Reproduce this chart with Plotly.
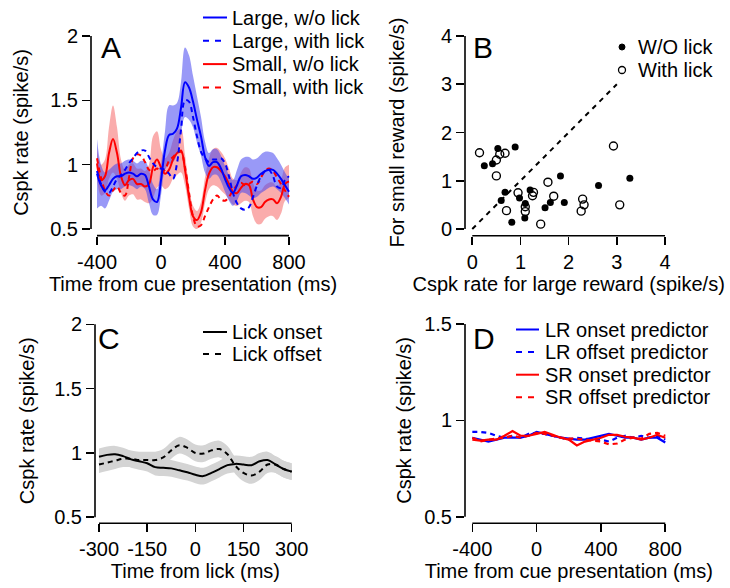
import plotly.graph_objects as go

W, H = 730, 588
FONT = "Arial, 'Liberation Sans', Helvetica, sans-serif"

# ---------------- Panel A data ----------------
tA = list(range(-400, 801, 25))
large_wo = [0.93, 0.84, 0.80, 0.84, 0.89, 0.91, 0.91, 0.93, 0.94, 0.93,
            0.91, 0.93, 0.92, 0.83, 0.73, 0.71, 0.88, 1.11, 1.23, 1.24,
            1.28, 1.44, 1.64, 1.60, 1.49, 1.35, 1.22, 1.06, 0.99, 1.02,
            1.02, 0.97, 0.89, 0.82, 0.78, 0.84, 0.91, 0.92, 0.91, 0.89,
            0.90, 0.93, 0.95, 0.96, 0.96, 0.93, 0.89, 0.84, 0.79]
large_with = [0.95, 0.85, 0.79, 0.78, 0.83, 0.89, 0.92, 0.96, 1.01, 1.05,
              1.09, 1.11, 1.11, 1.06, 1.01, 0.98, 0.97, 0.96, 0.93, 0.89,
              1.01, 1.27, 1.50, 1.49, 1.37, 1.22, 1.10, 1.05, 1.02, 1.04,
              1.04, 1.05, 1.01, 0.91, 0.78, 0.70, 0.66, 0.65, 0.67, 0.75,
              0.84, 0.91, 0.95, 0.96, 0.91, 0.83, 0.82, 0.88, 0.91]
small_wo = [1.01, 0.88, 0.91, 1.09, 1.20, 1.09, 0.91, 0.84, 0.88, 0.89,
            0.85, 0.85, 0.83, 0.85, 0.98, 1.04, 0.98, 0.93, 0.96, 1.04,
            1.09, 1.11, 0.96, 0.75, 0.60, 0.57, 0.63, 0.80, 0.93, 0.98,
            0.98, 0.95, 0.91, 0.85, 0.79, 0.78, 0.82, 0.85, 0.84, 0.73,
            0.67, 0.67, 0.71, 0.73, 0.73, 0.70, 0.75, 0.85, 0.87]
small_with = [1.05, 0.90, 0.80, 0.76, 0.80, 0.83, 0.78, 0.76, 0.90, 1.05,
              1.08, 1.07, 1.02, 0.96, 0.95, 0.97, 0.94, 0.96, 1.03, 1.06,
              1.09, 1.10, 0.98, 0.78, 0.60, 0.52, 0.53, 0.60, 0.67, 0.73,
              0.76, 0.73, 0.72, 0.75, 0.80, 0.84, 0.86, 0.84, 0.85, 0.87,
              0.85, 0.90, 0.95, 0.97, 0.95, 0.90, 0.85, 0.80, 0.75]
large_err = [0.27, 0.16, 0.14, 0.12, 0.10, 0.10, 0.10, 0.10, 0.10, 0.10,
             0.10, 0.10, 0.11, 0.13, 0.12, 0.10, 0.12, 0.15, 0.23, 0.22,
             0.20, 0.20, 0.27, 0.25, 0.20, 0.18, 0.15, 0.12, 0.10, 0.10,
             0.10, 0.10, 0.10, 0.10, 0.10, 0.12, 0.13, 0.14, 0.15, 0.15,
             0.15, 0.15, 0.15, 0.14, 0.13, 0.12, 0.11, 0.10, 0.10]
small_err = [0.12, 0.12, 0.13, 0.20, 0.26, 0.20, 0.13, 0.12, 0.12, 0.12,
             0.12, 0.12, 0.12, 0.15, 0.24, 0.22, 0.14, 0.12, 0.13, 0.15,
             0.17, 0.17, 0.12, 0.09, 0.08, 0.07, 0.08, 0.10, 0.12, 0.14,
             0.15, 0.15, 0.14, 0.12, 0.10, 0.10, 0.12, 0.13, 0.13, 0.13,
             0.13, 0.13, 0.13, 0.13, 0.13, 0.13, 0.13, 0.13, 0.13]

# ---------------- Panel B data ----------------
wo_lick_x = [0.25, 0.42, 0.53, 0.89, 1.83, 2.62, 3.27, 0.68, 0.60, 0.98,
             1.20, 1.10, 1.09, 0.82, 1.51, 1.62, 1.91]
wo_lick_y = [1.31, 1.35, 1.67, 1.70, 1.10, 0.90, 1.05, 0.76, 0.59, 0.64,
             0.81, 0.53, 0.23, 0.14, 0.44, 0.55, 0.55]
with_lick_x = [0.15, 0.68, 0.57, 0.50, 0.50, 2.93, 1.57, 0.95, 1.27, 1.25,
               1.69, 1.10, 1.10, 0.71, 1.42, 2.29, 2.32, 2.26, 3.06]
with_lick_y = [1.58, 1.57, 1.55, 1.43, 1.10, 1.72, 0.97, 0.75, 0.76, 0.69,
               0.68, 0.46, 0.36, 0.38, 0.10, 0.62, 0.50, 0.37, 0.50]
diag_x = [0, 3]
diag_y = [0, 3]

# ---------------- Panel C data ----------------
tC = list(range(-300, 301, 25))
lick_onset = [0.97, 0.985, 0.99, 0.975, 0.95, 0.935, 0.92, 0.89, 0.885, 0.88,
              0.865, 0.85, 0.83, 0.82, 0.845, 0.875, 0.905, 0.915, 0.91, 0.905,
              0.935, 0.945, 0.91, 0.875, 0.855]
lick_offset = [0.91, 0.925, 0.94, 0.955, 0.955, 0.945, 0.945, 0.945, 0.965, 1.02,
               1.06, 1.04, 1.00, 0.995, 1.02, 1.03, 0.99, 0.90, 0.845, 0.825,
               0.855, 0.91, 0.91, 0.875, 0.855]
lick_err = 0.065

# ---------------- Panel D data ----------------
tD = list(range(-400, 801, 50))
lr_onset = [0.91, 0.90, 0.89, 0.90, 0.91, 0.91, 0.91, 0.92, 0.94, 0.93,
            0.92, 0.91, 0.905, 0.90, 0.90, 0.91, 0.92, 0.93, 0.92, 0.91,
            0.91, 0.90, 0.91, 0.91, 0.885]
lr_offset = [0.94, 0.94, 0.935, 0.92, 0.91, 0.92, 0.91, 0.93, 0.935, 0.93,
             0.92, 0.91, 0.90, 0.91, 0.905, 0.90, 0.90, 0.89, 0.91, 0.92,
             0.91, 0.92, 0.91, 0.92, 0.90]
sr_onset = [0.90, 0.895, 0.90, 0.90, 0.92, 0.945, 0.92, 0.92, 0.93, 0.94,
            0.925, 0.91, 0.90, 0.87, 0.89, 0.90, 0.91, 0.925, 0.925, 0.915,
            0.91, 0.90, 0.91, 0.925, 0.91]
sr_offset = [0.91, 0.89, 0.90, 0.905, 0.91, 0.92, 0.91, 0.92, 0.935, 0.93,
             0.92, 0.91, 0.905, 0.905, 0.90, 0.895, 0.89, 0.875, 0.88, 0.90,
             0.91, 0.905, 0.93, 0.935, 0.92]

BLUE = "rgb(0,0,255)"
RED = "rgb(255,0,0)"
BLUE_BAND = "rgba(70,70,240,0.55)"
RED_BAND = "rgba(245,90,90,0.5)"
GRAY_BAND = "rgb(212,212,212)"

fig = go.Figure()


def band(x, mid, err, color, xa, ya, shape="spline"):
    if isinstance(err, (int, float)):
        err = [err] * len(mid)
    lo = [m - e for m, e in zip(mid, err)]
    hi = [m + e for m, e in zip(mid, err)]
    fig.add_trace(go.Scatter(x=x, y=lo, mode="lines", line=dict(width=0, shape=shape),
                             xaxis=xa, yaxis=ya, hoverinfo="skip", showlegend=False))
    fig.add_trace(go.Scatter(x=x, y=hi, mode="lines", line=dict(width=0, shape=shape),
                             fill="tonexty", fillcolor=color,
                             xaxis=xa, yaxis=ya, hoverinfo="skip", showlegend=False))


def line(x, y, color, dash, xa, ya, name, width=2, shape="spline"):
    fig.add_trace(go.Scatter(x=x, y=y, mode="lines", name=name,
                             line=dict(color=color, width=width, dash=dash, shape=shape),
                             xaxis=xa, yaxis=ya, showlegend=False))


# Panel A
band(tA, small_wo, small_err, RED_BAND, "x", "y")
band(tA, large_wo, large_err, BLUE_BAND, "x", "y")
line(tA, small_with, RED, "5px,4px", "x", "y", "Small, with lick")
line(tA, small_wo, RED, "solid", "x", "y", "Small, w/o lick")
line(tA, large_with, BLUE, "5px,4px", "x", "y", "Large, with lick")
line(tA, large_wo, BLUE, "solid", "x", "y", "Large, w/o lick")

# Panel B
fig.add_trace(go.Scatter(x=diag_x, y=diag_y, mode="lines",
                         line=dict(color="black", width=2, dash="5px,5px"),
                         xaxis="x2", yaxis="y2", showlegend=False, hoverinfo="skip"))
fig.add_trace(go.Scatter(x=wo_lick_x, y=wo_lick_y, mode="markers", name="W/O lick",
                         marker=dict(symbol="circle", size=7, color="black"),
                         xaxis="x2", yaxis="y2", showlegend=False))
fig.add_trace(go.Scatter(x=with_lick_x, y=with_lick_y, mode="markers", name="With lick",
                         marker=dict(symbol="circle-open", size=8, color="black",
                                     line=dict(width=1.4, color="black")),
                         xaxis="x2", yaxis="y2", showlegend=False))

# Panel C
band(tC, lick_onset, lick_err, GRAY_BAND, "x3", "y3")
band(tC, lick_offset, lick_err, GRAY_BAND, "x3", "y3")
line(tC, lick_onset, "black", "solid", "x3", "y3", "Lick onset")
line(tC, lick_offset, "black", "5px,4px", "x3", "y3", "Lick offset")

# Panel D
line(tD, lr_onset, BLUE, "solid", "x4", "y4", "LR onset predictor", width=2.2, shape="linear")
line(tD, lr_offset, BLUE, "5px,4px", "x4", "y4", "LR offset predictor", width=2.2, shape="linear")
line(tD, sr_onset, RED, "solid", "x4", "y4", "SR onset predictor", width=2.2, shape="linear")
line(tD, sr_offset, RED, "5px,4px", "x4", "y4", "SR offset predictor", width=2.2, shape="linear")


def px_x(x):
    return x / W


def px_y(y):
    return 1 - y / H


def axis(domain_px, rng, tickvals, ticktext, title, standoff, horizontal):
    if horizontal:
        dom = [px_x(domain_px[0]), px_x(domain_px[1])]
    else:
        dom = [px_y(domain_px[1]), px_y(domain_px[0])]
    return dict(domain=dom, range=rng, showgrid=False, zeroline=False, showline=False,
                automargin=False,
                ticks="outside", ticklen=8, tickwidth=1.6, tickcolor="black",
                tickmode="array", tickvals=tickvals, ticktext=ticktext,
                tickfont=dict(size=20, color="black", family=FONT),
                title=dict(text=title, font=dict(size=20, color="black", family=FONT),
                           standoff=standoff),
                fixedrange=True)


layout = dict(
    width=W, height=H, margin=dict(l=0, r=0, t=0, b=0, autoexpand=False),
    paper_bgcolor="white", plot_bgcolor="white", showlegend=False,
    font=dict(family=FONT, size=20, color="black"),
    xaxis=axis([91, 295], [-437.5, 837.5], [-400, 0, 400, 800], ["-400", "0", "400", "800"],
               "Time from cue presentation (ms)", 1, True),
    yaxis=axis([29.4, 235.6], [0.449, 2.051], [0.5, 1, 1.5, 2], ["0.5", "1", "1.5", "2"],
               "Cspk rate (spike/s)", 16, False),
    xaxis2=axis([465, 672.3], [-0.151, 4.151], [0, 1, 2, 3, 4], ["0", "1", "2", "3", "4"],
                "Cspk rate for large reward (spike/s)", 1, True),
    yaxis2=axis([29.3, 235.7], [-0.139, 4.139], [0, 1, 2, 3, 4], ["0", "1", "2", "3", "4"],
                "For small reward (spike/s)", 30, False),
    xaxis3=axis([95, 295.7], [-312.5, 312.5], [-300, -150, 0, 150, 300],
                ["-300", "-150", "0", "150", "300"], "Time from lick (ms)", 1, True),
    yaxis3=axis([318.3, 523.3], [0.453, 2.047], [0.5, 1, 1.5, 2], ["0.5", "1", "1.5", "2"],
                "Cspk rate (spike/s)", 14, False),
    xaxis4=axis([465, 672.6], [-445.5, 845.5], [-400, 0, 400, 800], ["-400", "0", "400", "800"],
                "Time from cue presentation (ms)", 1, True),
    yaxis4=axis([317.4, 523.3], [0.466, 1.534], [0.5, 1, 1.5], ["0.5", "1", "1.5"],
                "Cspk rate (spike/s)", 7, False),
)
for i, a in enumerate(["", "2", "3", "4"]):
    layout["xaxis" + a]["anchor"] = "y" + a
    layout["yaxis" + a]["anchor"] = "x" + a
fig.update_layout(**layout)

shapes = []
# R-style axis lines spanning only the tick range
axis_specs = [("x", "y", -400, 800, 0.5, 2), ("x2", "y2", 0, 4, 0, 4),
              ("x3", "y3", -300, 300, 0.5, 2), ("x4", "y4", -400, 800, 0.5, 1.5)]
for xa, ya, x0, x1, y0, y1 in axis_specs:
    shapes.append(dict(type="line", xref=xa, yref=ya + " domain", x0=x0, x1=x1, y0=0, y1=0,
                       line=dict(color="black", width=1.6)))
    shapes.append(dict(type="line", xref=xa + " domain", yref=ya, x0=0, x1=0, y0=y0, y1=y1,
                       line=dict(color="black", width=1.6)))

annotations = []


def text(x, y, s, size=20, anchor="left"):
    annotations.append(dict(x=px_x(x), y=px_y(y), xref="paper", yref="paper", text=s,
                            showarrow=False, xanchor=anchor, yanchor="middle",
                            font=dict(size=size, color="black", family=FONT)))


def legend_line(x0, x1, y, color, dash):
    shapes.append(dict(type="line", xref="paper", yref="paper", x0=px_x(x0), x1=px_x(x1),
                       y0=px_y(y), y1=px_y(y), line=dict(color=color, width=2, dash=dash)))


# Panel letters
text(99, 48, "A", 30)
text(471, 48, "B", 30)
text(96, 338, "C", 30)
text(471, 338, "D", 30)

# Legend A
legA = [("Large, w/o lick", BLUE, "solid"), ("Large, with lick", BLUE, "6px,6px"),
        ("Small, w/o lick", RED, "solid"), ("Small, with lick", RED, "6px,6px")]
for i, (s, c, d) in enumerate(legA):
    y = 17.5 + i * 23.3
    legend_line(203, 227, y, c, d)
    text(230, y, s)

# Legend B
shapes.append(dict(type="circle", xref="paper", yref="paper", x0=px_x(619), x1=px_x(625),
                   y0=px_y(50), y1=px_y(44), fillcolor="black", line=dict(color="black", width=1)))
shapes.append(dict(type="circle", xref="paper", yref="paper", x0=px_x(618.5), x1=px_x(625.5),
                   y0=px_y(73.5), y1=px_y(66.5), line=dict(color="black", width=1.3)))
text(636, 47, "W/O lick")
text(636, 70, "With lick")

# Legend C
legC = [("Lick onset", "black", "solid"), ("Lick offset", "black", "6px,6px")]
for i, (s, c, d) in enumerate(legC):
    y = 332 + i * 22
    legend_line(203, 227, y, c, d)
    text(230, y, s)

# Legend D
legD = [("LR onset predictor", BLUE, "solid"), ("LR offset predictor", BLUE, "6px,6px"),
        ("SR onset predictor", RED, "solid"), ("SR offset predictor", RED, "6px,6px")]
for i, (s, c, d) in enumerate(legD):
    y = 329.5 + i * 22.6
    legend_line(516, 539, y, c, d)
    text(543, y, s)

fig.update_layout(shapes=shapes, annotations=annotations)
fig.write_html("out.html", config={"displayModeBar": False, "staticPlot": True},
               post_script="document.body.style.margin='0px';document.body.style.padding='0px';"
                           "document.body.style.overflow='hidden';")
